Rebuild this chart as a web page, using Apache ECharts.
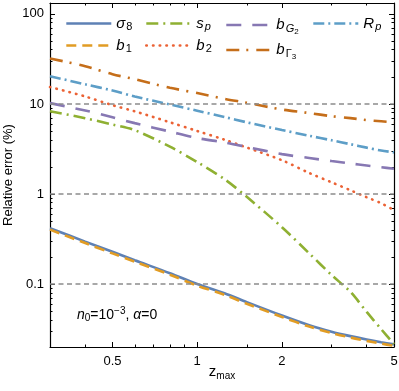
<!DOCTYPE html>
<html><head><meta charset="utf-8">
<script src="https://cdn.jsdelivr.net/npm/echarts@6/dist/echarts.min.js"></script>
<style>html,body{margin:0;padding:0;background:#fff}#c{width:399px;height:391px}</style>
</head><body><div id="c"></div>
<script>
// ---- data ----
const zmax    = [0.3, 0.4, 0.5, 0.6, 0.8, 1, 1.25, 1.5, 2, 2.5, 3, 3.5, 4, 4.5, 5];
const sigma8  = [0.417, 0.296, 0.228, 0.184, 0.132, 0.100, 0.079, 0.063, 0.0447, 0.0349, 0.0296, 0.0264, 0.0242, 0.0226, 0.0214];
const b1      = [0.402, 0.285, 0.219, 0.177, 0.127, 0.096, 0.076, 0.0605, 0.0431, 0.0337, 0.0286, 0.0255, 0.0234, 0.0218, 0.0206];
const sp      = [8.3, 6.95, 5.9, 5.11, 3.35, 2.26, 1.46, 0.93, 0.427, 0.219, 0.126, 0.082, 0.049, 0.0316, 0.0216];
const b2      = [15.4, 12.1, 9.68, 8.28, 6.25, 5.0, 4.01, 3.28, 2.37, 1.71, 1.35, 1.10, 0.92, 0.79, 0.66];
const bG2     = [10.2, 8.45, 7.1, 6.12, 4.93, 4.18, 3.73, 3.33, 2.77, 2.51, 2.32, 2.18, 2.07, 1.98, 1.91];
const bGamma3 = [32, 26.2, 21.4, 18.8, 15.1, 13.2, 11.4, 10.3, 8.67, 7.92, 7.31, 6.95, 6.61, 6.42, 6.25];
const Rp      = [20.3, 16.5, 14.1, 12.1, 9.85, 8.4, 7.15, 6.25, 5.13, 4.43, 3.95, 3.57, 3.27, 3.04, 2.9];

const xTicks = [0.5, 1, 2, 5];
const xMinorTicks = [0.4, 0.6, 0.7, 0.8, 0.9, 1.5, 3, 4];
const yTicks = [0.1, 1, 10, 100];
const yMinorTicks = [0.03, 0.04, 0.05, 0.06, 0.07, 0.08, 0.09, 0.2, 0.3, 0.4, 0.5, 0.6, 0.7, 0.8, 0.9, 2, 3, 4, 5, 6, 7, 8, 9, 20, 30, 40, 50, 60, 70, 80, 90];
const refLines = [10, 1, 0.1];

const seriesNames = ['σ8', 'b1', 's_p', 'b2', 'b_G2', 'b_Γ3', 'R_p'];
const seriesLabels = {
  'σ8': '{m|σ}{s|8}',
  'b1': '{m|b}{s|1}',
  's_p': '{m|s}{si|p}',
  'b2': '{m|b}{s|2}',
  'b_G2': '{m|b}{si|G}{ss|2}',
  'b_Γ3': '{m|b}{s|Γ}{ss|3}',
  'R_p': '{m|R}{si|p}'
};
const legendColumns = [[['σ8', 'b1'], 65], [['s_p', 'b2'], 145], [['b_G2', 'b_Γ3'], 225], [['R_p'], 312]];

// ---- styling ----
const FONT = '"Liberation Sans", Arial, sans-serif';
const FRAME = '#000';
const colors = ['#5E81B5', '#E19C24', '#8FB032', '#EB6235', '#8778B3', '#C56E1A', '#5D9EC7'];
const dashes = ['solid', [10, 6], [12, 5, 2, 5], [0.5, 6.2], [15, 11], [13, 7, 2, 8], [11, 4, 2, 4]];
const caps = ['butt', 'butt', 'butt', 'round', 'butt', 'butt', 'butt'];
const values = [sigma8, b1, sp, b2, bG2, bGamma3, Rp];

const chart = echarts.init(document.getElementById('c'), null, {renderer: 'canvas'});

function axisBase(extra) {
  return Object.assign({
    type: 'log', logBase: 10,
    splitLine: {show: false},
    axisLine: {show: false},
    axisLabel: {show: false},
    axisTick: {show: false}
  }, extra);
}
const tickStyle = {color: FRAME, width: 1};
const lineStyleFrame = {show: true, lineStyle: {color: FRAME, width: 1.2}};

const xAxes = [
  axisBase({
    position: 'bottom', min: 0.3, max: 5,
    axisLine: lineStyleFrame,
    axisTick: {show: true, inside: true, length: 5, customValues: xTicks, lineStyle: tickStyle},
    axisLabel: {show: true, customValues: xTicks, color: '#000', fontSize: 13, fontFamily: FONT, margin: 8,
      formatter: v => String(v)},
    name: '{z|z}{m|max}', nameLocation: 'middle', nameGap: 16, nameMoveOverlap: false,
    nameTextStyle: {color: '#000', fontFamily: FONT, rich: {
      z: {fontSize: 15, fontFamily: FONT, color: '#000', lineHeight: 18},
      m: {fontSize: 10, fontFamily: FONT, color: '#000', padding: [9, 0, 0, 0], lineHeight: 11}
    }}
  }),
  axisBase({position: 'bottom', min: 0.3, max: 5,
    axisTick: {show: true, inside: true, length: 2.5, customValues: xMinorTicks, lineStyle: tickStyle}}),
  axisBase({position: 'top', min: 0.3, max: 5, axisLine: lineStyleFrame,
    axisTick: {show: true, inside: true, length: 5, customValues: xTicks, lineStyle: tickStyle}}),
  axisBase({position: 'top', min: 0.3, max: 5,
    axisTick: {show: true, inside: true, length: 2.5, customValues: xMinorTicks, lineStyle: tickStyle}})
];
const yAxes = [
  axisBase({
    position: 'left', min: 0.02, max: 132,
    axisLine: lineStyleFrame,
    axisTick: {show: true, inside: true, length: 5, customValues: yTicks, lineStyle: tickStyle},
    axisLabel: {show: true, customValues: yTicks, color: '#000', fontSize: 13, fontFamily: FONT, margin: 6,
      formatter: v => String(v)},
    name: 'Relative error (%)', nameLocation: 'middle', nameGap: 35, nameMoveOverlap: false,
    nameTextStyle: {color: '#000', fontSize: 13, fontFamily: FONT}
  }),
  axisBase({position: 'left', min: 0.02, max: 132,
    axisTick: {show: true, inside: true, length: 2.5, customValues: yMinorTicks, lineStyle: tickStyle}}),
  axisBase({position: 'right', min: 0.02, max: 132, axisLine: lineStyleFrame,
    axisTick: {show: true, inside: true, length: 5, customValues: yTicks, lineStyle: tickStyle}}),
  axisBase({position: 'right', min: 0.02, max: 132,
    axisTick: {show: true, inside: true, length: 2.5, customValues: yMinorTicks, lineStyle: tickStyle}})
];

const series = seriesNames.map((name, k) => ({
  name, type: 'line',
  xAxisIndex: 0, yAxisIndex: 0,
  data: zmax.map((x, i) => [x, values[k][i]]),
  showSymbol: false, symbol: 'none', smooth: 0.3,
  lineStyle: {color: colors[k], width: 2.6, type: dashes[k], cap: caps[k]},
  itemStyle: {color: colors[k]},
  silent: true, animation: false, z: 3
}));
series[0].markLine = {
  silent: true, symbol: 'none', animation: false,
  label: {show: false},
  lineStyle: {color: '#8c8c8c', width: 1.5, type: [5, 3.5]},
  data: refLines.map(v => ({yAxis: v}))
};

const rich = {
  m: {fontSize: 15, fontStyle: 'italic', fontFamily: FONT, color: '#000', lineHeight: 18},
  s: {fontSize: 11, fontFamily: FONT, color: '#000', padding: [7, 0, 0, 1], lineHeight: 12},
  si: {fontSize: 11, fontStyle: 'italic', fontFamily: FONT, color: '#000', padding: [7, 0, 0, 1], lineHeight: 12},
  ss: {fontSize: 8, fontFamily: FONT, color: '#000', padding: [13, 0, 0, 0], lineHeight: 9}
};
const legends = legendColumns.map(([names, l]) => ({
  data: names, left: l, top: 14.5, padding: 0, itemGap: 4, orient: 'vertical',
  itemWidth: 45, itemHeight: 14, selectedMode: false,
  formatter: name => seriesLabels[name],
  textStyle: {color: '#000', fontFamily: FONT, rich},
  itemStyle: {opacity: 0},
  lineStyle: {width: 2.6, opacity: 1}
}));

chart.setOption({
  animation: false,
  backgroundColor: '#fff',
  grid: {left: 50, right: 5, top: 3, bottom: 44, containLabel: false, outerBoundsMode: 'none'},
  xAxis: xAxes,
  yAxis: yAxes,
  legend: legends,
  series,
  graphic: [{
    type: 'text', left: 77, top: 306,
    style: {
      text: '{i|n}{s|0}{t|=10}{p|−3}{t|, }{i|α}{t|=0}',
      fill: '#000',
      rich: {
        i: {fontSize: 14, fontStyle: 'italic', fontFamily: FONT, fill: '#000', lineHeight: 18},
        t: {fontSize: 14, fontFamily: FONT, fill: '#000', lineHeight: 18},
        s: {fontSize: 10, fontFamily: FONT, fill: '#000', padding: [6, 0, 0, 0], lineHeight: 11},
        p: {fontSize: 10, fontFamily: FONT, fill: '#000', padding: [0, 0, 8, 0], lineHeight: 11}
      }
    }
  }]
});
</script>
</body></html>
